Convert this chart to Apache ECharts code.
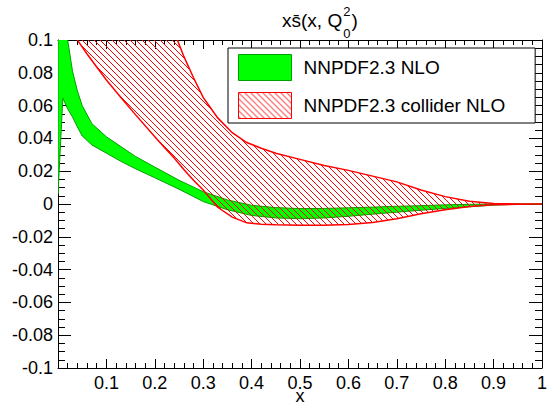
<!DOCTYPE html>
<html><head><meta charset="utf-8">
<script src="https://cdn.jsdelivr.net/npm/echarts@6/dist/echarts.min.js"></script>
<style>html,body{margin:0;padding:0;background:#fff}#c{width:549px;height:407px}</style>
</head><body><div id="c"></div>
<script>
// ---- data ----
const seriesNames = ['NNPDF2.3 NLO', 'NNPDF2.3 collider NLO'];
const greenX  = [0, 0.01, 0.02, 0.03, 0.04, 0.05, 0.07, 0.1, 0.13, 0.16, 0.2, 0.25, 0.3, 0.35, 0.4, 0.45, 0.5, 0.55, 0.6, 0.65, 0.7, 0.75, 0.8, 0.85, 0.9, 0.95, 1.0];
const greenLo = [0.006, 0.0645, 0.058, 0.053, 0.047, 0.0415, 0.036, 0.031, 0.026, 0.0215, 0.016, 0.009, 0.0015, -0.0035, -0.007, -0.0085, -0.009, -0.0085, -0.0075, -0.0062, -0.005, -0.0038, -0.0027, -0.0017, -0.0007, -0.0001, 0];
const greenHi = [0.3, 0.14, 0.1, 0.081, 0.069, 0.06, 0.049, 0.041, 0.035, 0.029, 0.0225, 0.0145, 0.0075, 0.0025, -0.0008, -0.0022, -0.0028, -0.0027, -0.0023, -0.0019, -0.0014, -0.001, -0.0005, -0.0002, 0, 0, 0];
const redX  = [0.03, 0.04, 0.06, 0.08, 0.1, 0.13, 0.16, 0.2, 0.22, 0.24, 0.26, 0.28, 0.3, 0.33, 0.36, 0.39, 0.42, 0.45, 0.5, 0.55, 0.6, 0.65, 0.7, 0.75, 0.8, 0.85, 0.9, 0.95, 1.0];
const redLo = [0.107, 0.1, 0.0915, 0.0835, 0.0756, 0.065, 0.0545, 0.041, 0.0345, 0.028, 0.021, 0.0145, 0.0085, -0.002, -0.008, -0.0115, -0.0123, -0.0127, -0.0129, -0.013, -0.0125, -0.0113, -0.009, -0.006, -0.0035, -0.0015, -0.0005, -0.0001, 0];
const redHi = [0.32, 0.31, 0.29, 0.27, 0.25, 0.22, 0.19, 0.15, 0.128, 0.105, 0.09, 0.077, 0.065, 0.0525, 0.0435, 0.0375, 0.034, 0.031, 0.0272, 0.0235, 0.0205, 0.017, 0.0135, 0.0085, 0.0045, 0.0017, 0.0003, 0, 0];
const xTickValues = [0, 0.1, 0.2, 0.3, 0.4, 0.5, 0.6, 0.7, 0.8, 0.9, 1];
const xTickLabels = ['', '0.1', '0.2', '0.3', '0.4', '0.5', '0.6', '0.7', '0.8', '0.9', '1'];
const yTickValues = [-0.1, -0.08, -0.06, -0.04, -0.02, 0, 0.02, 0.04, 0.06, 0.08, 0.1];
const yTickLabels = ['-0.1', '-0.08', '-0.06', '-0.04', '-0.02', '0', '0.02', '0.04', '0.06', '0.08', '0.1'];
const xMinorSplit = 5, yMinorSplit = 4;

// ---- styling ----
const FONT = 'Liberation Sans, Arial, sans-serif';
const black = '#000000';
function hatchCanvas() {
  const s = 6, c = document.createElement('canvas');
  c.width = s; c.height = s;
  const g = c.getContext('2d');
  g.strokeStyle = '#ff0000'; g.lineWidth = 1;
  g.beginPath();
  for (let k = -1; k <= 1; k++) { g.moveTo(k * s, 0); g.lineTo(k * s + s, s); }
  g.stroke();
  return c;
}
const hatch = { image: hatchCanvas(), repeat: 'repeat' };

function band(xs, lo, hi, style) {
  return function (params, api) {
    if (params.dataIndex !== 0) return null;
    const pts = [];
    for (let i = 0; i < xs.length; i++) pts.push(api.coord([xs[i], hi[i]]));
    for (let i = xs.length - 1; i >= 0; i--) pts.push(api.coord([xs[i], lo[i]]));
    return { type: 'polygon', shape: { points: pts }, style: style };
  };
}

const mctx = document.createElement('canvas').getContext('2d');
function tw(t, size) { mctx.font = size + 'px ' + FONT; return mctx.measureText(t).width; }
const titleMain = 'xs\u0304(x, Q';
const tX = 282, tMid = 20, tSize = 19, sSize = 13;
const w1 = tw(titleMain, tSize), w2 = tw('2', sSize);

function labelOf(values, labels) {
  return v => { for (let i = 0; i < values.length; i++) if (Math.abs(values[i] - v) < 1e-9) return labels[i]; return ''; };
}
const lbl = { fontFamily: FONT, fontSize: 18, color: black };

function axis(vals, pos, major, minor, split, labelOpt, extra) {
  return Object.assign({
    type: 'value', min: vals[0], max: vals[vals.length - 1], interval: vals[1] - vals[0], position: pos,
    splitLine: { show: false },
    axisLine: { show: true, onZero: false, lineStyle: { color: black, width: 1 } },
    axisTick: { show: true, inside: true, length: major, lineStyle: { color: black, width: 1 } },
    minorTick: { show: true, splitNumber: split, length: minor, lineStyle: { color: black, width: 1 } },
    axisLabel: labelOpt ? Object.assign({ show: true }, lbl, labelOpt) : { show: false }
  }, extra || {});
}

const chart = echarts.init(document.getElementById('c'), null, { renderer: 'svg' });
chart.setOption({
  animation: false,
  backgroundColor: '#fff',
  grid: { left: 58, right: 7, top: 40, bottom: 39, outerBoundsMode: 'none' },
  xAxis: [
    axis(xTickValues, 'bottom', 9, 5, xMinorSplit, { margin: 6, formatter: labelOf(xTickValues, xTickLabels) },
      { name: 'x', nameLocation: 'middle', nameGap: 19, nameMoveOverlap: false, nameTextStyle: lbl }),
    axis(xTickValues, 'top', 9, 5, xMinorSplit, null)
  ],
  yAxis: [
    axis(yTickValues, 'left', 13, 7, yMinorSplit, { margin: 5, formatter: labelOf(yTickValues, yTickLabels) }),
    axis(yTickValues, 'right', 13, 7, yMinorSplit, null)
  ],
  legend: {
    orient: 'vertical', left: 228, top: 48, selectedMode: false,
    itemWidth: 53, itemHeight: 26, itemGap: 11,
    padding: [6, 30, 4, 10],
    backgroundColor: '#fff', borderColor: black, borderWidth: 1, borderRadius: 0,
    textStyle: { fontFamily: FONT, fontSize: 19, color: black, padding: [0, 0, 0, 7] },
    data: [
      { name: seriesNames[0], icon: 'rect', itemStyle: { color: '#00ff00', borderColor: '#00a000', borderWidth: 1 } },
      { name: seriesNames[1], icon: 'rect', itemStyle: { color: hatch, borderColor: '#ff0000', borderWidth: 1 } }
    ]
  },
  graphic: [
    { type: 'text', x: tX, y: tMid, style: { text: titleMain, font: tSize + 'px ' + FONT, fill: black, verticalAlign: 'middle', align: 'left' } },
    { type: 'text', x: tX + w1 + 1, y: 11, style: { text: '2', font: sSize + 'px ' + FONT, fill: black, verticalAlign: 'middle', align: 'left' } },
    { type: 'text', x: tX + w1 + 1, y: 33, style: { text: '0', font: sSize + 'px ' + FONT, fill: black, verticalAlign: 'middle', align: 'left' } },
    { type: 'text', x: tX + w1 + w2 + 2, y: tMid, style: { text: ')', font: tSize + 'px ' + FONT, fill: black, verticalAlign: 'middle', align: 'left' } }
  ],
  series: [
    { type: 'custom', name: seriesNames[0], clip: true, xAxisIndex: 0, yAxisIndex: 0,
      itemStyle: { color: '#00ff00', borderColor: '#00a000' },
      data: greenX.map((x, i) => [x, greenLo[i], greenHi[i]]),
      renderItem: band(greenX, greenLo, greenHi, { fill: '#00ff00', stroke: '#00a000', lineWidth: 1 }) },
    { type: 'custom', name: seriesNames[1], clip: true, xAxisIndex: 0, yAxisIndex: 0,
      itemStyle: { color: '#ff0000', borderColor: '#ff0000' },
      data: redX.map((x, i) => [x, redLo[i], redHi[i]]),
      renderItem: band(redX, redLo, redHi, { fill: hatch, stroke: '#ff0000', lineWidth: 1.5 }) }
  ]
});
</script></body></html>
